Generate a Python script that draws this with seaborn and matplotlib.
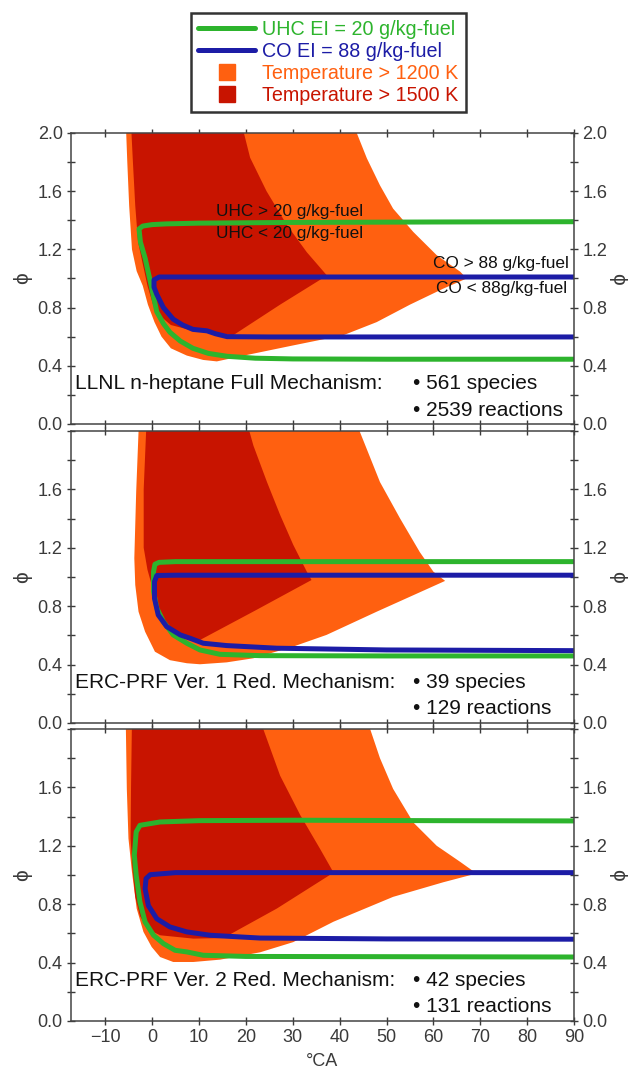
import numpy as np
import matplotlib
matplotlib.use("Agg")
import matplotlib.pyplot as plt
from matplotlib.lines import Line2D
import seaborn as sns

sns.set_theme(style="ticks")
plt.rcParams["font.family"] = ["Liberation Sans", "DejaVu Sans"]

# ---------------------------------------------------------------- colours
ORANGE = "#ff6010"
RED = "#c81400"
GREEN = "#2db42d"
BLUE = "#1c1ca6"

# ---------------------------------------------------------------- panel 1: LLNL full mechanism
llnl_t1200_ca = [-5.6, -5.3, -4.9, -4.3, -3.3, -2.0, -0.9, 0.5, 2.0, 4.0, 7.4, 10.9, 13.8,
                 20.2, 30.1, 40.8, 47.9, 55.0, 62.1, 67.1,
                 65.7, 60.7, 55.7, 51.4, 48.6, 45.8, 42.9]
llnl_t1200_phi = [2.06, 1.80, 1.50, 1.20, 1.05, 0.95, 0.82, 0.70, 0.60, 0.52, 0.47, 0.44, 0.43,
                  0.474, 0.54, 0.61, 0.70, 0.82, 0.93, 1.00,
                  1.047, 1.16, 1.32, 1.48, 1.64, 1.826, 2.06]
llnl_t1500_ca = [-4.5, -4.1, -3.6, -3.0, -2.0, -1.0, 0.2, 1.8, 4.0, 8.8, 17.3,
                 27.3, 37.3, 33.0, 28.7, 24.4, 20.9, 19.1]
llnl_t1500_phi = [2.06, 1.80, 1.50, 1.25, 1.10, 0.95, 0.82, 0.74, 0.68, 0.64, 0.61,
                  0.82, 1.02, 1.18, 1.37, 1.60, 1.83, 2.06]
llnl_uhc_ca = [92, 60, 30, 10, 3, 0, -2.0, -2.8, -2.5, -1.5, -0.4, 1.0, 2.4, 3.8, 6.0, 8.7, 12.0,
               16.0, 22.0, 30.0, 50.0, 92]
llnl_uhc_phi = [1.39, 1.388, 1.385, 1.38, 1.375, 1.37, 1.36, 1.34, 1.25, 1.14, 0.98, 0.77, 0.69,
                0.63, 0.57, 0.52, 0.485, 0.465, 0.452, 0.447, 0.445, 0.445]
llnl_co_ca = [92, 40, 10, 1.5, 0.4, 0.4, 1.0, 2.4, 4.5, 6.5, 8.7, 11.7, 13.5, 16.0, 25.0, 92]
llnl_co_phi = [1.01, 1.01, 1.01, 1.01, 0.99, 0.94, 0.89, 0.80, 0.72, 0.68, 0.65, 0.64, 0.62,
               0.60, 0.598, 0.598]

# ---------------------------------------------------------------- panel 2: ERC-PRF version 1
v1_t1200_ca = [-2.9, -2.9, -3.4, -3.8, -3.6, -2.9, -1.5, 0.6, 3.8, 7.4, 10.2,
               15.9, 21.6, 30.1, 37.2, 47.9, 62.5,
               60.0, 57.1, 52.9, 48.6, 44.3, 44.0]
v1_t1200_phi = [2.06, 1.995, 1.584, 1.128, 0.945, 0.762, 0.625, 0.488, 0.43, 0.409, 0.402,
                0.415, 0.443, 0.523, 0.603, 0.762, 0.973,
                1.036, 1.17, 1.40, 1.65, 1.995, 2.06]
v1_t1500_ca = [-1.2, -1.8, -1.8, -1.0, 0.3, 1.0, 2.5, 4.5, 7.0, 10.2,
               22.0, 34.0, 33.0, 30.1, 27.3, 24.5, 21.6, 20.2]
v1_t1500_phi = [2.06, 1.60, 1.20, 1.05, 0.90, 0.78, 0.68, 0.62, 0.59, 0.568,
                0.77, 0.979, 1.036, 1.22, 1.425, 1.65, 1.90, 2.06]
v1_uhc_ca = [92, 30, 5, 1.5, 0.6, 0.3, 0.3, 1.0, 2.4, 4.5, 7.4, 10.2, 14.5, 23.0, 50.0, 92]
v1_uhc_phi = [1.105, 1.105, 1.105, 1.10, 1.087, 1.036, 0.90, 0.786, 0.694, 0.603, 0.546,
              0.50, 0.47, 0.461, 0.459, 0.459]
v1_co_ca = [92, 30, 5, 1.0, 0.5, 0.5, 1.3, 3.1, 6.0, 8.1, 10.9, 15.9, 26.6, 50.0, 92]
v1_co_phi = [1.012, 1.012, 1.012, 1.01, 0.968, 0.854, 0.74, 0.66, 0.603, 0.58, 0.546,
             0.53, 0.512, 0.50, 0.495]

# ---------------------------------------------------------------- panel 3: ERC-PRF version 2
v2_t1200_ca = [-5.6, -5.6, -5.4, -5.05, -4.3, -3.3, -1.85, -0.1, 1.7, 4.5, 8.8,
               14.5, 23.0, 30.1, 38.7, 51.4, 62.1, 69.2,
               65.7, 60.7, 55.7, 51.4, 48.6, 46.5, 46.3]
v2_t1200_phi = [2.06, 2.0, 1.59, 1.25, 1.02, 0.77, 0.61, 0.507, 0.438, 0.404, 0.404,
                0.42, 0.47, 0.54, 0.68, 0.85, 0.95, 1.01,
                1.09, 1.20, 1.36, 1.59, 1.80, 2.0, 2.06]
v2_t1500_ca = [-4.3, -4.5, -4.6, -4.2, -3.6, -2.6, -1.0, 1.7, 8.8, 15.2,
               26.6, 38.7, 35.8, 31.6, 27.3, 23.7, 23.5]
v2_t1500_phi = [2.06, 1.60, 1.25, 1.05, 0.85, 0.72, 0.63, 0.587, 0.564, 0.568,
                0.77, 1.016, 1.18, 1.41, 1.68, 2.0, 2.06]
v2_uhc_ca = [92, 60, 30, 10, 1.7, -2.6, -3.4, -3.8, -3.4, -2.6, -1.5, 0.3, 2.4, 4.9, 7.4,
             10.9, 20.0, 92]
v2_uhc_phi = [1.37, 1.372, 1.375, 1.372, 1.363, 1.34, 1.295, 1.135, 0.998, 0.815, 0.678,
              0.587, 0.53, 0.484, 0.473, 0.45, 0.442, 0.438]
v2_co_ca = [92, 30, 5, -0.4, -1.3, -1.5, -0.8, 1.0, 3.8, 7.4, 12.4, 23.0, 50.0, 92]
v2_co_phi = [1.016, 1.016, 1.016, 1.002, 0.975, 0.906, 0.79, 0.70, 0.644, 0.61, 0.587,
             0.568, 0.562, 0.56]

# ---------------------------------------------------------------- annotations
mechanism_names = ["LLNL n-heptane Full Mechanism:",
                   "ERC-PRF Ver. 1 Red. Mechanism:",
                   "ERC-PRF Ver. 2 Red. Mechanism:"]
species_counts = [561, 39, 42]
reaction_counts = [2539, 129, 131]

x_ticks = list(range(-10, 91, 10))
y_ticks = [0.0, 0.2, 0.4, 0.6, 0.8, 1.0, 1.2, 1.4, 1.6, 1.8, 2.0]

legend_labels = ["UHC EI = 20 g/kg-fuel", "CO EI = 88 g/kg-fuel",
                 "Temperature > 1200 K", "Temperature > 1500 K"]

panels = [
    dict(t1200=(llnl_t1200_ca, llnl_t1200_phi), t1500=(llnl_t1500_ca, llnl_t1500_phi),
         uhc=(llnl_uhc_ca, llnl_uhc_phi), co=(llnl_co_ca, llnl_co_phi)),
    dict(t1200=(v1_t1200_ca, v1_t1200_phi), t1500=(v1_t1500_ca, v1_t1500_phi),
         uhc=(v1_uhc_ca, v1_uhc_phi), co=(v1_co_ca, v1_co_phi)),
    dict(t1200=(v2_t1200_ca, v2_t1200_phi), t1500=(v2_t1500_ca, v2_t1500_phi),
         uhc=(v2_uhc_ca, v2_uhc_phi), co=(v2_co_ca, v2_co_phi)),
]

# ---------------------------------------------------------------- figure
fig = plt.figure(figsize=(6.28, 10.72), dpi=100)
ax_rects = [[0.1131, 0.6045, 0.801, 0.2715],
            [0.1131, 0.3256, 0.801, 0.2724],
            [0.1131, 0.0476, 0.801, 0.2724]]

TICK_COLOR = "#3a3a3a"
TEXT_COLOR = "#111111"
MECH_FS = 15
NOTE_FS = 12.4
TICK_FS = 13

for i, (rect, p) in enumerate(zip(ax_rects, panels)):
    ax = fig.add_axes(rect)
    ax.fill(*p["t1200"], color=ORANGE, lw=0, zorder=1)
    ax.fill(*p["t1500"], color=RED, lw=0, zorder=2)
    sns.lineplot(x=p["uhc"][0], y=p["uhc"][1], sort=False, estimator=None,
                 color=GREEN, lw=3.6, ax=ax, zorder=3)
    sns.lineplot(x=p["co"][0], y=p["co"][1], sort=False, estimator=None,
                 color=BLUE, lw=3.6, ax=ax, zorder=4)

    ax.set_xlim(-17.3, 90)
    ax.set_ylim(0, 2.0)
    ax.set_xticks(x_ticks)
    ax.set_yticks(y_ticks)
    ylabels = [f"{v:.1f}" if round(v / 0.4, 6) % 1 == 0 else "" for v in y_ticks]
    if i > 0:
        ylabels[-1] = ""
    ax.set_yticklabels(ylabels)
    if i < 2:
        ax.set_xticklabels([])
    else:
        ax.set_xticklabels([f"{v:d}".replace("-", "\u2212") for v in x_ticks])
    ax.set_xlabel("")
    ax.set_ylabel("")
    ax.tick_params(axis="both", which="both", direction="inout", length=6, width=1,
                   colors=TICK_COLOR, labelsize=TICK_FS, top=True, right=True,
                   labelright=True, pad=3)
    for s in ax.spines.values():
        s.set_color("#444444")
        s.set_linewidth(1.1)
        s.set_zorder(6)

    ax.text(-0.097, 0.5, "\u03d5", rotation=90, transform=ax.transAxes,
            ha="center", va="center", fontsize=15, color=TICK_COLOR)
    ax.text(1.0875, 0.5, "\u03d5", rotation=270, transform=ax.transAxes,
            ha="center", va="center", fontsize=15, color=TICK_COLOR)

    ax.text(-16.4, 0.275, mechanism_names[i], fontsize=MECH_FS, ha="left", va="center",
            color=TEXT_COLOR, zorder=7)
    ax.text(55.7, 0.275, f"\u2022 {species_counts[i]} species", fontsize=MECH_FS,
            ha="left", va="center", color=TEXT_COLOR, zorder=7)
    ax.text(55.7, 0.096, f"\u2022 {reaction_counts[i]} reactions", fontsize=MECH_FS,
            ha="left", va="center", color=TEXT_COLOR, zorder=7)

    if i == 0:
        ax.text(13.6, 1.46, "UHC > 20 g/kg-fuel", fontsize=NOTE_FS, ha="left",
                va="center", color=TEXT_COLOR, zorder=7)
        ax.text(13.6, 1.31, "UHC < 20 g/kg-fuel", fontsize=NOTE_FS, ha="left",
                va="center", color=TEXT_COLOR, zorder=7)
        ax.text(89, 1.10, "CO > 88 g/kg-fuel", fontsize=NOTE_FS, ha="right",
                va="center", color=TEXT_COLOR, zorder=7)
        ax.text(88.6, 0.93, "CO < 88g/kg-fuel", fontsize=NOTE_FS, ha="right",
                va="center", color=TEXT_COLOR, zorder=7)

fig.text(0.513, 0.0095, "\u00b0CA", ha="center", va="center", fontsize=13,
         color=TICK_COLOR)

# ---------------------------------------------------------------- legend
handles = [Line2D([], [], color=GREEN, lw=3.6),
           Line2D([], [], color=BLUE, lw=3.6),
           Line2D([], [], color=ORANGE, marker="s", ls="none", markersize=12),
           Line2D([], [], color=RED, marker="s", ls="none", markersize=12)]
leg = fig.legend(handles, legend_labels, loc="upper center",
                 bbox_to_anchor=(0.523, 0.988), fontsize=14.2,
                 labelcolor=[GREEN, BLUE, ORANGE, RED], frameon=True,
                 fancybox=False, edgecolor="black", handlelength=2.9,
                 handletextpad=0.35, labelspacing=0.15, borderpad=0.35,
                 borderaxespad=0)
leg.get_frame().set_linewidth(1.8)

fig.savefig("out.png", dpi=100)
